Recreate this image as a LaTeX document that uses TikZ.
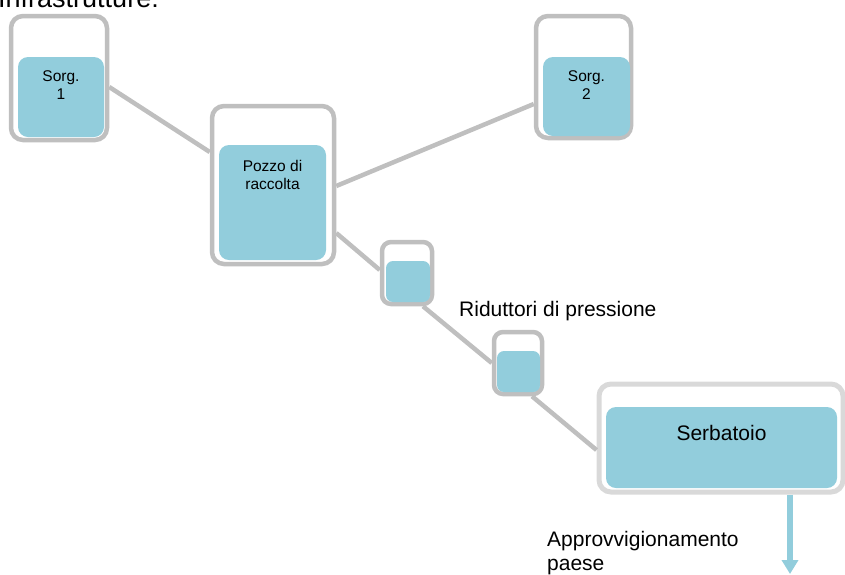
\documentclass[tikz,border=0pt]{standalone}
\usepackage{fontspec}
\setmainfont{Liberation Sans}
\usetikzlibrary{arrows.meta,positioning,backgrounds}
\definecolor{acqua}{HTML}{92CDDC}
\definecolor{grigio}{HTML}{BFBFBF}
\definecolor{grigiochiaro}{HTML}{D9D9D9}
\tikzstyle{casing} = [draw=grigio, line width=4.5pt, fill=white, rounded corners=12pt, inner sep=0pt]
\tikzstyle{core} = [fill=acqua, rounded corners=10pt, inner sep=0pt]
\tikzstyle{pipe} = [draw=grigio, line width=4.5pt]
\tikzstyle{supply} = [draw=acqua, line width=6pt, -{Triangle[width=16pt,length=14pt]}]
\tikzstyle{small} = [font=\fontsize{15.5}{18}\selectfont, align=center, inner sep=0pt]
\tikzstyle{big} = [font=\fontsize{21}{24}\selectfont, align=left, inner sep=0pt]

\begin{document}
\begin{tikzpicture}[x=1pt, y=-1pt]
        \useasboundingbox (0,0) rectangle (845,574);

        \node[font=\fontsize{27}{30}\selectfont, anchor=base west, inner sep=0pt] (title) at (-2,7) {Infrastrutture:};

        % sorgenti e pozzo
        \node[casing, minimum width=96pt, minimum height=124pt] (s1) at (59,78) {};
        \node[core, minimum width=86pt, minimum height=80pt] (s1in) at (61,97) {};
        \node[small, below=14pt of s1in.north] (s1txt) {Sorg.\\1};

        \node[casing, minimum width=95pt, minimum height=122pt] (s2) at (583.5,77) {};
        \node[core, minimum width=87pt, minimum height=79pt] (s2in) at (586.5,96.5) {};
        \node[small, below=14pt of s2in.north] (s2txt) {Sorg.\\2};

        \node[casing, minimum width=122pt, minimum height=158pt] (pozzo) at (273,185) {};
        \node[core, minimum width=107pt, minimum height=115pt] (pozzoin) at (272.5,202.5) {};
        \node[small, below=15pt of pozzoin.north] (pozzotxt) {Pozzo di\\raccolta};

        % riduttori
        \node[casing, minimum width=50pt, minimum height=62pt, rounded corners=9pt] (rid1) at (407,273) {};
        \node[core, minimum width=44pt, minimum height=41pt, rounded corners=7pt] (rid1in) at (408,281.5) {};
        \node[casing, minimum width=48pt, minimum height=62pt, rounded corners=9pt] (rid2) at (518,363) {};
        \node[core, minimum width=43pt, minimum height=41pt, rounded corners=7pt] (rid2in) at (518.5,371.5) {};
        \node[big, anchor=base west] (ridtxt) at (459,316) {Riduttori di pressione};

        % serbatoio
        \node[casing, draw=grigiochiaro, line width=5pt, minimum width=244pt, minimum height=108pt] (serb) at (721,438) {};
        \node[core, minimum width=231pt, minimum height=81pt] (serbin) at (721.5,447.5) {};
        \node[big, below=18pt of serbin.north] (serbtxt) {Serbatoio};

        \coordinate (paese) at (790,574);
        \node[big, anchor=north west] (paesetxt) at (547,531) {Approvvigionamento\\paese};

        \draw[pipe] ([yshift=-9pt]s1.east) -- ([yshift=33pt]pozzo.west);
        \draw[pipe] ([yshift=-1pt]pozzo.east) -- ([yshift=-27pt]s2.west);
        \draw[pipe] ([yshift=-48pt]pozzo.east) -- ([yshift=3pt]rid1.west);
        \draw[pipe] ([xshift=16pt]rid1.south) -- (rid2.west);
        \draw[pipe] ([xshift=14pt]rid2.south) -- ([yshift=-12pt]serb.west);

        \draw[supply] ([xshift=69pt]serb.south) -- (paese);

    \end{tikzpicture}
\end{document}
